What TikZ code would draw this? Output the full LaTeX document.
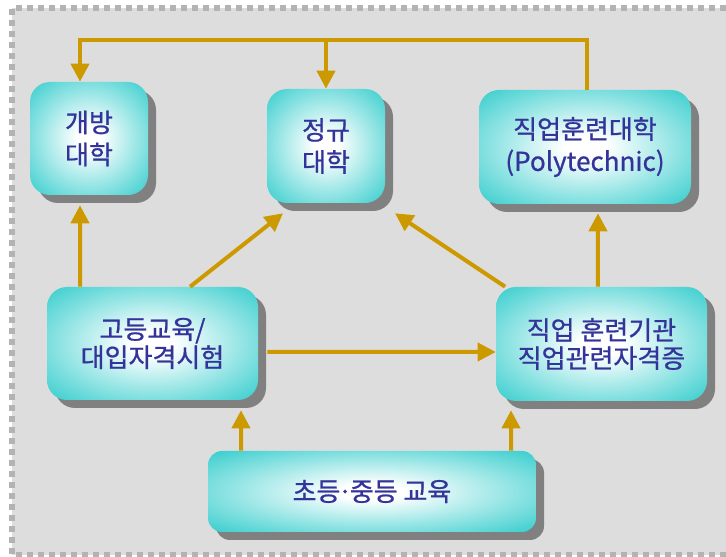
\documentclass[tikz,border=0pt]{standalone}
\usepackage{fontspec}
\setmainfont{Noto Sans CJK KR}[FakeBold=0.8]
\usepackage{xcolor}
\usepackage{tikz}
\usetikzlibrary{arrows.meta,shadows}

\definecolor{gold}{HTML}{CC9900}
\definecolor{tuerkis}{HTML}{33CCCC}
\definecolor{tblau}{HTML}{333399}
\definecolor{schatten}{HTML}{808080}
\definecolor{hgrau}{HTML}{DDDDDD}
\definecolor{rgrau}{HTML}{B3B3B3}
\pgfdeclareradialshading{kachel}{\pgfpoint{0bp}{0bp}}{color(0bp)=(white); color(5bp)=(white); color(36bp)=(tuerkis); color(75bp)=(tuerkis)}

\tikzset{
  kasten/.style={rounded corners=0.5cm, shading=kachel, text=tblau, align=center,
    font=\fontsize{18.5}{22.8}\selectfont,
    drop shadow={shadow xshift=0.2cm, shadow yshift=-0.2cm, fill=schatten, opacity=1}},
  eng/.style={font=\fontsize{18.5}{20}\selectfont},
  pfeil/.style={draw=gold, line width=0.1cm, -{Triangle[width=0.45cm,length=0.45cm]}}
}

\begin{document}
\begin{tikzpicture}
  \useasboundingbox (0,0) rectangle (18.15,13.925);

  % Hintergrund
  \fill[hgrau] (0.3,0.05) rectangle (18.15,13.725);
  \draw[rgrau, line width=0.15cm, dash pattern=on 0.15cm off 0.125cm]
    (18.15,13.725) -- (0.3,13.725) -- (0.3,0.05) -- (18.15,0.05);

  % Kaesten
  \node[kasten, minimum width=2.95cm, minimum height=2.825cm] (offen) at (2.225,10.4625) {개방\\대학};
  \node[kasten, minimum width=2.95cm, minimum height=2.85cm] (regulaer) at (8.15,10.275) {정규\\대학};
  \node[kasten, minimum width=5.3cm, minimum height=2.85cm] (poly) at (14.625,10.25) {직업훈련대학\\(Polytechnic)};
  \node[kasten, eng, minimum width=5.275cm, minimum height=2.825cm] (hoch) at (3.8125,5.3375) {고등교육/\\대입자격시험};
  \node[kasten, eng, minimum width=5.275cm, minimum height=2.85cm] (beruf) at (15.0375,5.325) {직업 훈련기관\\직업관련자격증};
  \node[kasten, rounded corners=0.35cm, minimum width=8.2cm, minimum height=2.025cm] (grund) at (9.3,1.6375) {초등\kern-0.1em·\kern-0.1em중등 교육};

  % Pfeile
  \draw[pfeil] ([xshift=0.05cm]poly.north) -- ++(0,1.25) -| ([xshift=-0.225cm]offen.north);
  \draw[pfeil] ([yshift=1.225cm]regulaer.north) -- (regulaer.north);
  \draw[pfeil] ([xshift=-1.8125cm]hoch.north) -- ([shift={(-0.225,-0.25)}]offen.south);
  \draw[pfeil] ([xshift=0.94cm]hoch.north) -- ([shift={(-1.075,-0.25)}]regulaer.south);
  \draw[pfeil] ([xshift=-2.41cm]beruf.north) -- ([shift={(1.725,-0.25)}]regulaer.south);
  \draw[pfeil] ([xshift=-0.09cm]beruf.north) -- ([shift={(0.325,-0.225)}]poly.south);
  \draw[pfeil] ([shift={(0.225,-0.2125)}]hoch.east) -- ([yshift=-0.2cm]beruf.west);
  \draw[pfeil] ([xshift=-3.275cm]grund.north) -- ([shift={(2.2125,-0.25)}]hoch.south);
  \draw[pfeil] ([xshift=3.475cm]grund.north) -- ([shift={(-2.2625,-0.225)}]beruf.south);

\end{tikzpicture}
\end{document}
